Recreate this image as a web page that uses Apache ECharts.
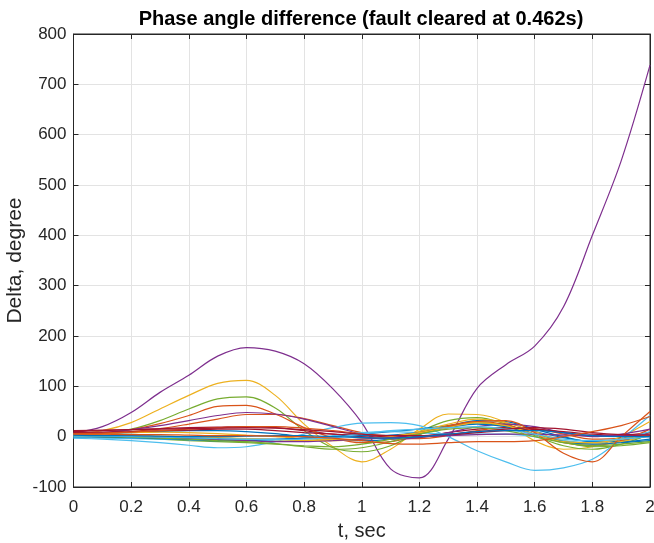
<!DOCTYPE html>
<html>
<head>
<meta charset="utf-8">
<script src="https://cdn.jsdelivr.net/npm/echarts@6/dist/echarts.min.js"></script>
<style>
html,body{margin:0;padding:0;background:#fff;}
#chart{width:654px;height:543px;}
</style>
</head>
<body>
<div id="chart"></div>
<script>
// time axis (seconds)
const tValues = [0,0.1,0.2,0.3,0.4,0.5,0.6,0.7,0.8,0.9,1.0,1.1,1.2,1.3,1.4,1.5,1.6,1.7,1.8,1.9,2.0];

// phase angle differences (degrees), one array per generator
const s01 = [5,6,8,10,12,12,10,6,0,-5,-8,-5,5,20,32,30,15,0,-10,-8,2];
const s02 = [4,6,10,16,25,35,44,44,36,22,8,-2,-4,2,12,18,16,5,-5,-3,8];
const s03 = [5,12,28,55,82,106,112,82,25,-20,-50,-25,15,45,44,28,-8,-25,-20,0,30];
const s04 = [8,20,48,88,122,160,177,170,145,95,28,-64,-82,-5,96,143,180,258,400,548,738];
const s05 = [2,6,15,32,55,75,79,57,12,-22,-30,-18,10,32,38,25,2,-18,-25,-15,5];
const s06 = [-3,-5,-8,-12,-17,-22,-20,-10,5,18,27,28,22,0,-28,-50,-67,-62,-45,-5,42];
const s07 = [10,12,14,16,18,19,20,18,12,5,0,-3,0,8,15,18,15,8,2,3,8];
const s08 = [2,2,1,0,-2,-4,-5,-5,-3,0,5,10,15,22,28,22,10,-2,-10,-10,-5];
const s09 = [3,6,14,26,42,60,62,45,18,-2,-12,-10,5,22,30,24,5,-12,-18,-8,15];
const s10 = [6,7,8,9,8,6,3,0,-4,-6,-5,0,10,25,35,28,10,-8,-15,-10,5];
const s11 = [5,8,14,22,32,42,48,45,35,20,5,-5,-2,8,20,25,20,8,0,5,15];
const s12 = [0,0,-2,-5,-8,-10,-12,-15,-18,-20,-15,-5,8,20,28,20,5,-10,-20,-18,-12];
const s13 = [-2,-3,-4,-5,-6,-7,-7,-6,-3,2,8,10,8,5,5,5,0,-8,-12,-5,10];
const s14 = [8,9,10,12,13,15,15,12,8,5,2,0,0,3,8,12,14,10,5,2,0];
const s15 = [0,-1,-2,-4,-6,-8,-8,-6,-3,0,2,3,8,18,25,20,5,-10,-15,-12,-8];
const s16 = [6,7,9,12,15,18,20,20,17,12,6,2,8,20,30,32,8,-33,-50,0,50];
const s17 = [3,3,2,1,0,-2,-4,-6,-8,-8,-5,0,8,18,28,22,5,-10,-12,-5,5];
const s18 = [2,1,0,-2,-4,-6,-8,-10,-10,-8,-5,-2,0,2,4,5,5,3,2,2,5];
const s19 = [1,0,-1,-3,-5,-8,-10,-14,-20,-25,-22,-10,5,15,18,12,0,-12,-18,-15,-10];
const s20 = [1,1,0,-1,-2,-4,-5,-6,-5,-2,5,12,15,18,20,15,5,-5,-8,-5,0];
const s21 = [12,13,14,15,16,17,18,17,14,10,5,2,2,5,10,15,18,15,8,4,3];
const s22 = [3,2,2,1,0,0,1,2,2,0,-2,-3,0,5,10,12,12,8,2,0,0];
const s23 = [5,5,4,4,3,2,2,1,0,-3,-8,-14,-15,-12,-10,-10,-8,0,10,22,40];

const seriesValues = [s01,s02,s03,s04,s05,s06,s07,s08,s09,s10,s11,s12,s13,s14,s15,s16,s17,s18,s19,s20,s21,s22,s23];

const xTicks = [0,0.2,0.4,0.6,0.8,1,1.2,1.4,1.6,1.8,2];
const yTicks = [-100,0,100,200,300,400,500,600,700,800];

const titleText = 'Phase angle difference (fault cleared at 0.462s)';
const xLabel = 't, sec';
const yLabel = 'Delta, degree';

const palette = ['#0072BD','#D95319','#EDB120','#7E2F8E','#77AC30','#4DBEEE','#A2142F'];

const FONT = '"Liberation Sans", Arial, Helvetica, sans-serif';
const axisColor = '#262626';

const chart = echarts.init(document.getElementById('chart'), null, {renderer:'canvas'});

const series = seriesValues.map((vals, i) => ({
  type: 'line',
  data: tValues.map((t, k) => [t, vals[k]]),
  showSymbol: false,
  smooth: 0.35,
  lineStyle: {width: 1.2, color: palette[i % palette.length]},
  itemStyle: {color: palette[i % palette.length]},
  silent: true,
  animation: false
}));

const xCommon = {
  type: 'value', min: xTicks[0], max: xTicks[xTicks.length-1], interval: 0.2
};
const yCommon = {
  type: 'value', min: yTicks[0], max: yTicks[yTicks.length-1], interval: 100
};

chart.setOption({
  animation: false,
  backgroundColor: '#ffffff',
  title: {
    text: titleText,
    left: 356, top: 4,
    textAlign: 'center',
    textStyle: {fontFamily: FONT, fontWeight: 'bold', fontSize: 20, color: '#000'}
  },
  grid: {
    left: 73.5, right: 4, top: 34, bottom: 56,
    outerBoundsMode: 'none',
    containLabel: false,
    show: true, borderColor: axisColor, borderWidth: 1, backgroundColor: '#fff'
  },
  xAxis: [
    Object.assign({}, xCommon, {
      position: 'bottom',
      name: xLabel, nameLocation: 'middle', nameGap: 34, nameMoveOverlap: false,
      nameTextStyle: {fontFamily: FONT, fontSize: 20, color: axisColor},
      axisLine: {show: true, onZero: false, lineStyle: {color: axisColor}},
      axisTick: {show: true, inside: true, length: 5, lineStyle: {color: axisColor}},
      axisLabel: {fontFamily: FONT, fontSize: 17, color: axisColor, margin: 12,
        formatter: v => String(+v.toFixed(1))},
      splitLine: {show: true, lineStyle: {color: '#e3e3e3', width: 1}}
    }),
    Object.assign({}, xCommon, {
      position: 'top',
      axisLine: {show: true, onZero: false, lineStyle: {color: axisColor}},
      axisTick: {show: true, inside: true, length: 5, lineStyle: {color: axisColor}},
      axisLabel: {show: false},
      splitLine: {show: false}
    })
  ],
  yAxis: [
    Object.assign({}, yCommon, {
      position: 'left',
      name: yLabel, nameLocation: 'middle', nameGap: 48, nameRotate: 90, nameMoveOverlap: false,
      nameTextStyle: {fontFamily: FONT, fontSize: 21, color: axisColor},
      axisLine: {show: true, onZero: false, lineStyle: {color: axisColor}},
      axisTick: {show: true, inside: true, length: 5, lineStyle: {color: axisColor}},
      axisLabel: {fontFamily: FONT, fontSize: 17, color: axisColor, margin: 7},
      splitLine: {show: true, lineStyle: {color: '#e3e3e3', width: 1}}
    }),
    Object.assign({}, yCommon, {
      position: 'right',
      axisLine: {show: true, onZero: false, lineStyle: {color: axisColor}},
      axisTick: {show: true, inside: true, length: 5, lineStyle: {color: axisColor}},
      axisLabel: {show: false},
      splitLine: {show: false}
    })
  ],
  series: series
});
</script>
</body>
</html>
